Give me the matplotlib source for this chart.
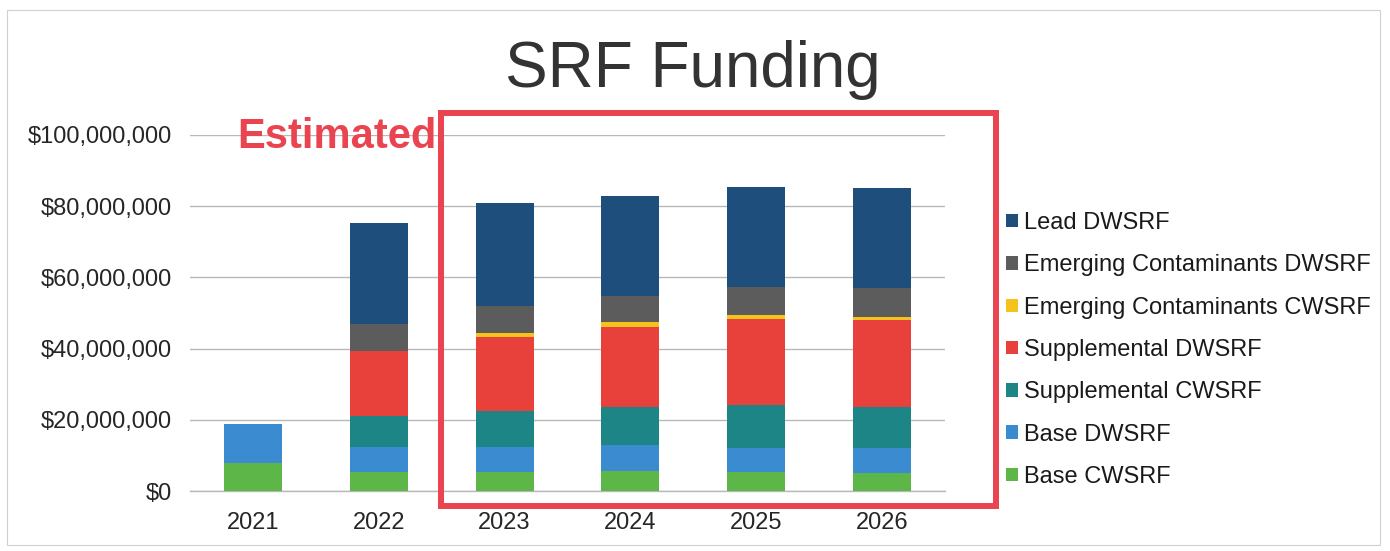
import matplotlib
matplotlib.use("Agg")
import matplotlib.pyplot as plt
from matplotlib.patches import Rectangle, Patch
from matplotlib.ticker import FuncFormatter
import numpy as np

plt.rcParams['font.family'] = ['Liberation Sans', 'DejaVu Sans']

years = ['2021', '2022', '2023', '2024', '2025', '2026']
# values in $ millions, bottom to top of each stack
base_cwsrf = [8.0, 5.4, 5.2, 5.5, 5.2, 5.0]
base_dwsrf = [10.7, 7.0, 7.1, 7.3, 7.0, 7.0]
supp_cwsrf = [0.0, 8.7, 10.1, 10.9, 12.0, 11.7]
supp_dwsrf = [0.0, 18.2, 20.9, 22.5, 24.0, 24.3]
ec_cwsrf = [0.0, 0.0, 1.2, 1.2, 1.2, 1.0]
ec_dwsrf = [0.0, 7.7, 7.6, 7.5, 7.9, 8.0]
lead_dwsrf = [0.0, 28.2, 28.7, 28.1, 28.1, 28.0]

series_names = ['Base CWSRF', 'Base DWSRF', 'Supplemental CWSRF', 'Supplemental DWSRF',
                'Emerging Contaminants CWSRF', 'Emerging Contaminants DWSRF', 'Lead DWSRF']
series_vals = [base_cwsrf, base_dwsrf, supp_cwsrf, supp_dwsrf, ec_cwsrf, ec_dwsrf, lead_dwsrf]
colors = ['#5cb648', '#3a8bd0', '#1d8585', '#e8413c', '#f6c21c', '#5c5c5c', '#1d4e7c']

fig = plt.figure(figsize=(13.9, 5.51), dpi=100)
ax = fig.add_axes([190/1390, 60/551, 755/1390, 356/551])

x = np.arange(len(years))
bottom = np.zeros(len(years))
for name, vals, c in zip(series_names, series_vals, colors):
    v = np.array(vals) * 1e6
    ax.bar(x, v, bottom=bottom, width=0.46, color=c, label=name, zorder=3)
    bottom += v

ax.set_xlim(-0.5, 5.5)
ax.set_ylim(0, 100e6)
ax.set_yticks(np.arange(0, 100e6 + 1, 20e6))
ax.yaxis.set_major_formatter(FuncFormatter(lambda v, p: '${:,.0f}'.format(v)))
ax.set_xticks(x)
ax.set_xticklabels(years)
ax.tick_params(axis='both', length=0, labelsize=17, colors='#262626')
ax.tick_params(axis='y', pad=13)
ax.tick_params(axis='x', pad=15)
ax.grid(axis='y', color='#b8b8b8', linewidth=1.0, zorder=0)
for s in ax.spines.values():
    s.set_visible(False)
ax.spines['bottom'].set_visible(True)
ax.spines['bottom'].set_color('#b8b8b8')
ax.spines['bottom'].set_linewidth(1.0)

fig.text(693/1390, 1 - 70/551, 'SRF Funding', ha='center', va='center',
         fontsize=46, color='#333333')
fig.text(237/1390, 1 - 137/551, 'Estimated', ha='left', va='center',
         fontsize=30, fontweight='bold', color='#ea4450')

fig.patches.append(Rectangle((441/1390, 1 - 506/551), 555/1390, 393.5/551,
                             transform=fig.transFigure, fill=False,
                             edgecolor='#ea4450', linewidth=4.3, zorder=10))
fig.patches.append(Rectangle((7/1390, 1 - 545/551), 1373/1390, 535/551,
                             transform=fig.transFigure, fill=False,
                             edgecolor='#d0d0d0', linewidth=0.8, zorder=1))

handles = [Patch(facecolor=c, edgecolor='none') for c in colors][::-1]
labels = series_names[::-1]
fig.legend(handles, labels, loc='upper left', bbox_to_anchor=(1006/1390, 1 - 212/551),
           frameon=False, fontsize=17, handlelength=0.5, handleheight=0.5,
           handletextpad=0.25, labelspacing=0.86, borderaxespad=0, borderpad=0,
           labelcolor='#1a1a1a')

fig.savefig('out.png', dpi=100)
